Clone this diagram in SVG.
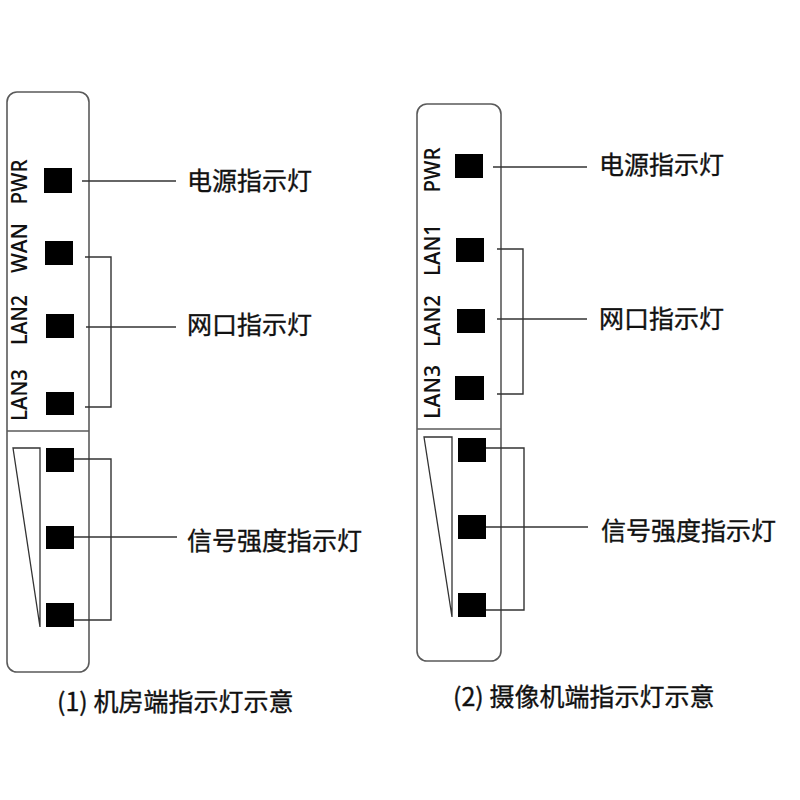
<svg xmlns="http://www.w3.org/2000/svg" width="800" height="800" viewBox="0 0 800 800">
<style>
.panel{fill:none;stroke:#5a5a5a;stroke-width:1.6}
.led{fill:#000}
.conn{fill:none;stroke:#333;stroke-width:1.4}
.tri{fill:none;stroke:#333;stroke-width:1.3;stroke-linejoin:miter}
.lbl{font-family:"Open Sans","DejaVu Sans",sans-serif;font-size:21px;font-weight:600;fill:#111;text-anchor:middle}
.cn{font-family:"Noto Sans CJK SC",sans-serif;font-size:25px;fill:#111;stroke:#111;stroke-width:0.35}
</style>
<rect width="800" height="800" fill="#fff"/>

<g id="panel-left">
  <rect class="panel" x="7" y="92" width="82" height="580" rx="10"/>
  <line class="panel" x1="7" y1="431" x2="89" y2="431"/>
  <polygon class="tri" points="13,448 40,448 40,627"/>
  <text class="lbl" transform="translate(27,182) rotate(-90)" textLength="45" lengthAdjust="spacingAndGlyphs">PWR</text>
  <text class="lbl" transform="translate(27,248) rotate(-90)" textLength="50" lengthAdjust="spacingAndGlyphs">WAN</text>
  <text class="lbl" transform="translate(27,320) rotate(-90)" textLength="50" lengthAdjust="spacingAndGlyphs">LAN2</text>
  <text class="lbl" transform="translate(27,395) rotate(-90)" textLength="52" lengthAdjust="spacingAndGlyphs">LAN3</text>
</g>
<g id="led-left-pwr"><rect class="led" x="44" y="168" width="28" height="25"/></g>
<g id="led-left-wan"><rect class="led" x="45" y="241" width="28" height="24"/></g>
<g id="led-left-lan2"><rect class="led" x="46" y="314" width="28" height="24"/></g>
<g id="led-left-lan3"><rect class="led" x="46" y="392" width="28" height="23"/></g>
<g id="led-left-sig1"><rect class="led" x="46" y="448" width="28" height="24"/></g>
<g id="led-left-sig2"><rect class="led" x="46" y="526" width="28" height="23"/></g>
<g id="led-left-sig3"><rect class="led" x="46" y="603" width="28" height="24"/></g>

<g id="panel-right">
  <rect class="panel" x="417" y="104" width="84" height="557" rx="10"/>
  <line class="panel" x1="417" y1="429" x2="501" y2="429"/>
  <polygon class="tri" points="424,437 452,437 452,617"/>
  <text class="lbl" transform="translate(440,170) rotate(-90)" textLength="45" lengthAdjust="spacingAndGlyphs">PWR</text>
  <text class="lbl" transform="translate(440,250) rotate(-90)" textLength="52" lengthAdjust="spacingAndGlyphs">LAN1</text>
  <text class="lbl" transform="translate(440,321) rotate(-90)" textLength="52" lengthAdjust="spacingAndGlyphs">LAN2</text>
  <text class="lbl" transform="translate(440,392) rotate(-90)" textLength="54" lengthAdjust="spacingAndGlyphs">LAN3</text>
</g>
<g id="led-right-pwr"><rect class="led" x="455" y="154" width="28" height="24"/></g>
<g id="led-right-lan1"><rect class="led" x="456" y="238" width="28" height="24"/></g>
<g id="led-right-lan2"><rect class="led" x="457" y="309" width="28" height="24"/></g>
<g id="led-right-lan3"><rect class="led" x="455" y="376" width="29" height="24"/></g>
<g id="led-right-sig1"><rect class="led" x="458" y="438" width="28" height="24"/></g>
<g id="led-right-sig2"><rect class="led" x="458" y="515" width="28" height="24"/></g>
<g id="led-right-sig3"><rect class="led" x="458" y="593" width="28" height="24"/></g>

<g id="connectors">
  <path class="conn" d="M82 181 H176"/>
  <path class="conn" d="M85 257 H111 V407 H85"/>
  <path class="conn" d="M86 327 H176"/>
  <path class="conn" d="M74 459 H111 V620 H74"/>
  <path class="conn" d="M74 537 H177"/>
  <path class="conn" d="M493 167 H587"/>
  <path class="conn" d="M497 249 H523 V394 H497"/>
  <path class="conn" d="M497 319 H587"/>
  <path class="conn" d="M486 448 H524 V610 H486"/>
  <path class="conn" d="M486 527 H588"/>
</g>

<g id="labels">
  <text class="cn" x="187" y="190">电源指示灯</text>
  <text class="cn" x="187" y="334">网口指示灯</text>
  <text class="cn" x="187" y="550">信号强度指示灯</text>
  <text class="cn" x="57" y="711">(1) 机房端指示灯示意</text>
  <text class="cn" x="599" y="174">电源指示灯</text>
  <text class="cn" x="599" y="328">网口指示灯</text>
  <text class="cn" x="601" y="540">信号强度指示灯</text>
  <text class="cn" x="453" y="706">(2) 摄像机端指示灯示意</text>
</g>
</svg>
